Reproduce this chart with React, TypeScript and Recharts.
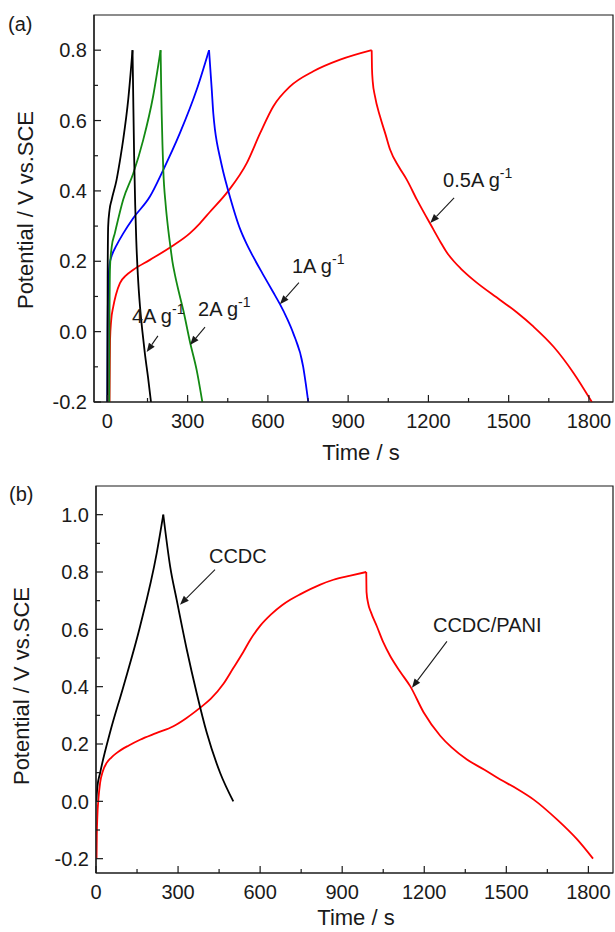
import React from 'react';
import { LineChart, Line, XAxis, YAxis, ReferenceLine, ReferenceArea } from 'recharts';

// (a) galvanostatic charge/discharge at different current densities, [time s, potential V]
const black4Charge = [[0, -0.2], [1, 0.15], [3, 0.3], [8, 0.345], [16, 0.375], [34, 0.43], [50, 0.5], [59, 0.545], [78, 0.66], [94, 0.8]];
const black4Discharge = [[94, 0.8], [96, 0.7], [100, 0.5], [104, 0.36], [108, 0.26], [114, 0.16], [122, 0.071], [131, 0.0], [140, -0.061], [152, -0.13], [163, -0.2]];
const green2Charge = [[7, -0.2], [8, 0.05], [10, 0.185], [16, 0.24], [28, 0.28], [59, 0.375], [97, 0.45], [134, 0.545], [171, 0.669], [199, 0.8]];
const green2Discharge = [[199, 0.8], [201, 0.7], [203, 0.62], [206, 0.53], [209, 0.46], [218, 0.36], [226, 0.3], [234, 0.251], [243, 0.2], [253, 0.16], [268, 0.11], [284, 0.06], [309, -0.03], [334, -0.11], [355, -0.2]];
const blue1Charge = [[0, -0.2], [1, 0.0], [3, 0.12], [8, 0.19], [16, 0.215], [34, 0.245], [60, 0.28], [97, 0.323], [159, 0.384], [209, 0.46], [271, 0.564], [334, 0.688], [380, 0.8]];
const blue1Discharge = [[380, 0.8], [385, 0.745], [390, 0.69], [396, 0.62], [402, 0.575], [410, 0.535], [421, 0.495], [436, 0.445], [452, 0.4], [496, 0.292], [520, 0.25], [545, 0.213], [580, 0.165], [620, 0.112], [645, 0.078], [670, 0.04], [695, -0.005], [732, -0.1], [742, -0.15], [751, -0.2]];
const red05Charge = [[8, -0.2], [9, -0.1], [10, -0.024], [14, 0.03], [22, 0.071], [32, 0.105], [47, 0.138], [70, 0.16], [97, 0.176], [159, 0.204], [240, 0.242], [309, 0.28], [346, 0.308], [383, 0.34], [452, 0.4], [521, 0.479], [571, 0.564], [620, 0.64], [683, 0.697], [770, 0.74], [870, 0.773], [988, 0.8]];
const red05Discharge = [[988, 0.8], [989, 0.75], [992, 0.71], [1000, 0.67], [1019, 0.612], [1040, 0.56], [1057, 0.517], [1090, 0.468], [1119, 0.432], [1157, 0.375], [1219, 0.29], [1245, 0.255], [1269, 0.225], [1295, 0.2], [1320, 0.18], [1368, 0.147], [1468, 0.09], [1530, 0.055], [1593, 0.014], [1668, -0.043], [1743, -0.118], [1811, -0.2]];

// (b) CCDC vs CCDC/PANI
const ccdcCharge = [[1, 0.0], [5, 0.05], [15, 0.099], [51, 0.239], [100, 0.4], [161, 0.61], [222, 0.866], [246, 1.0]];
const ccdcDischarge = [[246, 1.0], [271, 0.82], [295, 0.703], [332, 0.529], [368, 0.378], [405, 0.239], [454, 0.099], [502, 0.0]];
const paniCharge = [[2, -0.2], [3, -0.12], [5, -0.052], [9, 0.01], [15, 0.064], [25, 0.105], [39, 0.134], [55, 0.152], [76, 0.169], [120, 0.195], [161, 0.215], [220, 0.238], [283, 0.262], [330, 0.29], [380, 0.326], [420, 0.358], [466, 0.41], [502, 0.465], [539, 0.522], [563, 0.562], [600, 0.612], [640, 0.652], [680, 0.684], [710, 0.703], [746, 0.722], [820, 0.756], [868, 0.773], [930, 0.787], [988, 0.8]];
const paniDischarge = [[988, 0.8], [989, 0.73], [995, 0.69], [1005, 0.66], [1027, 0.61], [1050, 0.555], [1076, 0.506], [1112, 0.452], [1149, 0.401], [1198, 0.31], [1259, 0.228], [1300, 0.188], [1356, 0.146], [1420, 0.11], [1478, 0.076], [1540, 0.043], [1600, 0.006], [1686, -0.064], [1759, -0.133], [1817, -0.2]];

const xTicks = [0, 150, 300, 450, 600, 750, 900, 1050, 1200, 1350, 1500, 1650, 1800];
const yTicksA = [-0.2, -0.1, 0, 0.1, 0.2, 0.3, 0.4, 0.5, 0.6, 0.7, 0.8];
const yTicksB = [-0.2, -0.1, 0, 0.1, 0.2, 0.3, 0.4, 0.5, 0.6, 0.7, 0.8, 0.9, 1.0];

// annotations: label, arrow tail and head in data units
const notesA = [
  { label: '4A g', tail: [189, -0.012], head: [147, -0.058], dx: -26, dy: -13 },
  { label: '2A g', tail: [365, 0.013], head: [309, -0.038], dx: -7, dy: -11 },
  { label: '1A g', tail: [716, 0.139], head: [645, 0.078], dx: -7, dy: -10 },
  { label: '0.5A g', tail: [1296, 0.38], head: [1207, 0.309], dx: -11, dy: -11 },
];
const notesB = [
  { label: 'CCDC', tail: [435, 0.808], head: [307, 0.686], dx: -6, dy: -7 },
  { label: 'CCDC/PANI', tail: [1283, 0.558], head: [1155, 0.396], dx: -14, dy: -9 },
];

const FONT = '"Liberation Sans", Arial, sans-serif';
const INK = '#1a1a1a';

const toPts = (arr: number[][]) => arr.map(([t, v]) => ({ t, v }));

const YTick = (props: any) => {
  const { x, y, payload } = props;
  const v = payload.value as number;
  const major = Math.abs(Math.round(v * 10)) % 2 === 0;
  return (
    <g>
      <line x1={x} y1={y} x2={x + (major ? 7 : 4)} y2={y} stroke={INK} strokeWidth={1.2} />
      {major && (
        <text x={x - 7} y={y} dy="0.36em" textAnchor="end" fontSize={20} fontFamily={FONT} fill={INK}>
          {v.toFixed(1)}
        </text>
      )}
    </g>
  );
};

const XTick = (props: any) => {
  const { x, y, payload } = props;
  const v = payload.value as number;
  const major = v % 300 === 0;
  return (
    <g>
      <line x1={x} y1={y} x2={x} y2={y - (major ? 7 : 4)} stroke={INK} strokeWidth={1.2} />
      {major && (
        <text x={x} y={y + 26} textAnchor="middle" fontSize={20} fontFamily={FONT} fill={INK}>
          {v}
        </text>
      )}
    </g>
  );
};

const arrowShape = (label: string, dx: number, dy: number, sup: boolean) => (p: any) => {
  const { x1, y1, x2, y2 } = p;
  const ang = Math.atan2(y2 - y1, x2 - x1);
  const L = 9;
  const W = 3.5;
  const bx = x2 - L * Math.cos(ang);
  const by = y2 - L * Math.sin(ang);
  const nx = -Math.sin(ang) * W;
  const ny = Math.cos(ang) * W;
  return (
    <g>
      <line x1={x1} y1={y1} x2={bx} y2={by} stroke={INK} strokeWidth={1.1} />
      <polygon points={`${x2},${y2} ${bx + nx},${by + ny} ${bx - nx},${by - ny}`} fill={INK} />
      <text x={x1 + dx} y={y1 + dy} fontSize={20} fontFamily={FONT} fill={INK}>
        {label}
        {sup && (
          <tspan dy={-9} fontSize={14}>
            -1
          </tspan>
        )}
      </text>
    </g>
  );
};

const lineProps = {
  dataKey: 'v',
  type: 'monotone' as const,
  dot: false,
  strokeWidth: 1.8,
  isAnimationActive: false,
};

const PanelA = () => (
  <LineChart width={615} height={440} margin={{ top: 15, right: 2, left: 0, bottom: 0 }}>
    <XAxis
      dataKey="t"
      type="number"
      domain={[-50, 1890]}
      ticks={xTicks}
      interval={0}
      allowDataOverflow
      height={38}
      tickSize={0}
      tickMargin={0}
      tickLine={false}
      tick={<XTick />}
      axisLine={{ stroke: INK, strokeWidth: 1.2 }}
    />
    <YAxis
      type="number"
      domain={[-0.2, 0.9]}
      ticks={yTicksA}
      interval={0}
      allowDataOverflow
      width={94}
      tickSize={0}
      tickMargin={0}
      tickLine={false}
      tick={<YTick />}
      axisLine={{ stroke: INK, strokeWidth: 1.2 }}
    />
    <ReferenceArea x1={-50} x2={1890} y1={-0.2} y2={0.9} fill="none" stroke={INK} strokeWidth={1.2} />
    <Line {...lineProps} data={toPts(red05Charge)} stroke="#ff0000" />
    <Line {...lineProps} data={toPts(red05Discharge)} stroke="#ff0000" />
    <Line {...lineProps} data={toPts(blue1Charge)} stroke="#0000ff" />
    <Line {...lineProps} data={toPts(blue1Discharge)} stroke="#0000ff" />
    <Line {...lineProps} data={toPts(green2Charge)} stroke="#138a13" />
    <Line {...lineProps} data={toPts(green2Discharge)} stroke="#138a13" />
    <Line {...lineProps} data={toPts(black4Charge)} stroke="#000000" />
    <Line {...lineProps} data={toPts(black4Discharge)} stroke="#000000" />
    {notesA.map((n) => (
      <ReferenceLine
        key={n.label}
        segment={[{ x: n.tail[0], y: n.tail[1] }, { x: n.head[0], y: n.head[1] }]}
        shape={arrowShape(n.label, n.dx, n.dy, true)}
      />
    ))}
  </LineChart>
);

const PanelB = () => (
  <LineChart width={615} height={492} margin={{ top: 46, right: 2, left: 0, bottom: 0 }}>
    <XAxis
      dataKey="t"
      type="number"
      domain={[0, 1890]}
      ticks={xTicks}
      interval={0}
      allowDataOverflow
      height={59}
      tickSize={0}
      tickMargin={0}
      tickLine={false}
      tick={<XTick />}
      axisLine={{ stroke: INK, strokeWidth: 1.2 }}
    />
    <YAxis
      type="number"
      domain={[-0.25, 1.1]}
      ticks={yTicksB}
      interval={0}
      allowDataOverflow
      width={96}
      tickSize={0}
      tickMargin={0}
      tickLine={false}
      tick={<YTick />}
      axisLine={{ stroke: INK, strokeWidth: 1.2 }}
    />
    <ReferenceArea x1={0} x2={1890} y1={-0.25} y2={1.1} fill="none" stroke={INK} strokeWidth={1.2} />
    <Line {...lineProps} data={toPts(paniCharge)} stroke="#ff0000" />
    <Line {...lineProps} data={toPts(paniDischarge)} stroke="#ff0000" />
    <Line {...lineProps} data={toPts(ccdcCharge)} stroke="#000000" />
    <Line {...lineProps} data={toPts(ccdcDischarge)} stroke="#000000" />
    {notesB.map((n) => (
      <ReferenceLine
        key={n.label}
        segment={[{ x: n.tail[0], y: n.tail[1] }, { x: n.head[0], y: n.head[1] }]}
        shape={arrowShape(n.label, n.dx, n.dy, false)}
      />
    ))}
  </LineChart>
);

export default function App() {
  return (
    <div style={{ position: 'absolute', left: 0, top: 0, width: 615, height: 932, background: '#fff', overflow: 'hidden' }}>
      <div style={{ position: 'absolute', left: 0, top: 0 }}>
        <PanelA />
      </div>
      <div style={{ position: 'absolute', left: 0, top: 440 }}>
        <PanelB />
      </div>
      <svg width={615} height={932} style={{ position: 'absolute', left: 0, top: 0, pointerEvents: 'none' }}>
        <g fontFamily={FONT} fill={INK}>
          <text x={8} y={31} fontSize={20}>(a)</text>
          <text x={9} y={501} fontSize={20}>(b)</text>
          <text x={361} y={460} fontSize={22} textAnchor="middle">Time / s</text>
          <text x={356} y={925} fontSize={22} textAnchor="middle">Time / s</text>
          <text transform="translate(33,210) rotate(-90)" fontSize={22} textAnchor="middle">Potential / V vs.SCE</text>
          <text transform="translate(29,686) rotate(-90)" fontSize={22} textAnchor="middle">Potential / V vs.SCE</text>
        </g>
      </svg>
    </div>
  );
}
